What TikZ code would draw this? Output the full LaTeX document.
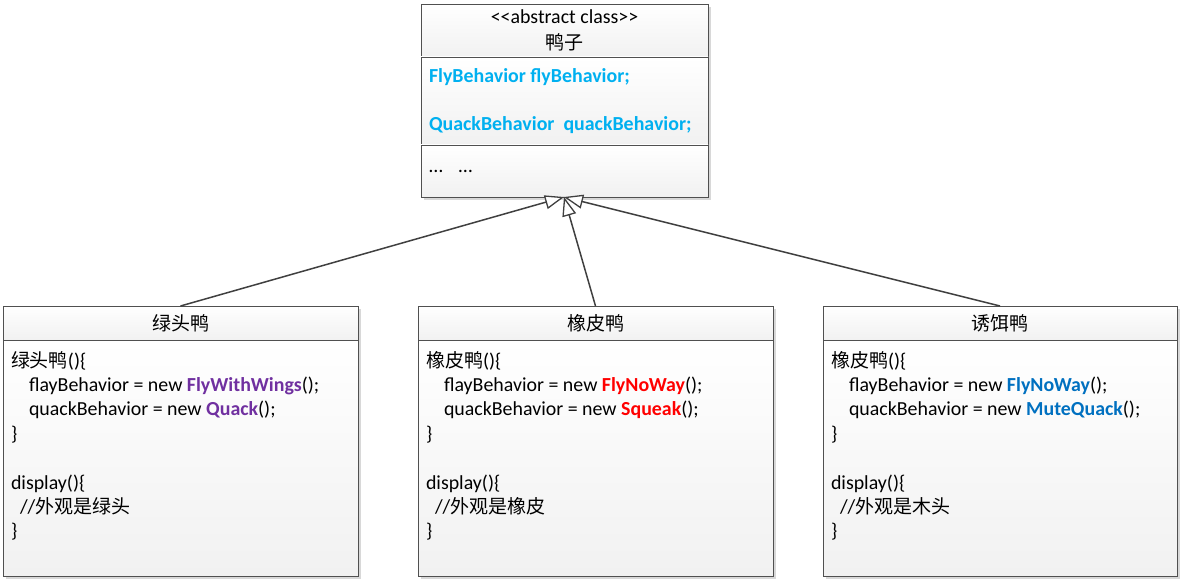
\documentclass[tikz,border=0pt]{standalone}
\usepackage{fontspec}
\setmainfont{Carlito}
\newfontfamily\cjk{Noto Sans CJK SC}
\usetikzlibrary{arrows.meta}
\definecolor{linegray}{HTML}{505050}
\definecolor{arrgray}{HTML}{404040}
\definecolor{shadowgray}{HTML}{D8D8D8}
\definecolor{attrblue}{HTML}{00B0F0}
\definecolor{purp}{HTML}{7030A0}
\definecolor{redc}{HTML}{FF0000}
\definecolor{bluec}{HTML}{0070C0}
\newcommand\codefont{\fontsize{19.9}{23}\selectfont}
\tikzset{
  sect/.style={draw=linegray, line width=0.9pt, top color=white, bottom color=gray!11,
    anchor=north west, inner sep=0pt, outer sep=0pt},
  codeline/.style={anchor=base west, inner sep=0pt, outer sep=0pt, font=\codefont},
  headtext/.style={anchor=center, inner sep=0pt, font=\fontsize{19}{22}\selectfont\cjk},
  inh/.style={draw=arrgray, line width=1.5pt, -{Triangle[open, length=19pt, width=14pt, fill=white, line width=1.3pt]}},
}
\begin{document}
\begin{tikzpicture}[x=1pt,y=-1pt]
\useasboundingbox (0,0) rectangle (1184,583);
% shadows
\fill[shadowgray] (424,7) rectangle (711,200);
\fill[shadowgray] (6,309) rectangle (361,579);
\fill[shadowgray] (421,309) rectangle (776,579);
\fill[shadowgray] (826,309) rectangle (1180,579);
% top class
\node[sect, minimum width=287pt, minimum height=53pt] (duckhead) at (421,4) {};
\node[sect, minimum width=287pt, minimum height=88pt] (duckattr) at (421,57) {};
\node[sect, minimum width=287pt, minimum height=52pt] (duckops) at (421,145) {};
\node[anchor=center, inner sep=0pt, font=\codefont] (stereo) at (564.5,17) {<{}<abstract class>{}>};
\node[headtext] (duckname) at (564.5,42) {鸭子};
\node[codeline, font=\codefont\bfseries, text=attrblue] (attr1) at (429,82.5) {FlyBehavior flyBehavior;};
\node[codeline, font=\codefont\bfseries, text=attrblue] (attr2) at (429,131) {QuackBehavior\ \ quackBehavior;};
\node[codeline] (ops) at (429,172) {…\hspace{16pt}…};
% bottom classes
\node[sect, minimum width=355pt, minimum height=34pt] (greenhead) at (3,306) {};
\node[sect, minimum width=355pt, minimum height=236pt] (greenbody) at (3,340) {};
\node[sect, minimum width=355pt, minimum height=34pt] (rubberhead) at (418,306) {};
\node[sect, minimum width=355pt, minimum height=236pt] (rubberbody) at (418,340) {};
\node[sect, minimum width=354pt, minimum height=34pt] (decoyhead) at (823,306) {};
\node[sect, minimum width=354pt, minimum height=236pt] (decoybody) at (823,340) {};
\node[headtext] (greenname) at (greenhead.center) {绿头鸭};
\node[headtext] (rubbername) at (rubberhead.center) {橡皮鸭};
\node[headtext] (decoyname) at (decoyhead.center) {诱饵鸭};
% green body
\node[codeline] (g1) at (11,367) {{\cjk\fontsize{19}{22}\selectfont 绿头鸭}()\{};
\node[codeline] (g2) at (29,391.5) {flayBehavior = new \textbf{\color{purp}FlyWithWings}();};
\node[codeline] (g3) at (29,415.5) {quackBehavior = new \textbf{\color{purp}Quack}();};
\node[codeline] (g4) at (11,440) {\}};
\node[codeline] (g5) at (11,489) {display()\{};
\node[codeline] (g6) at (20,513) {//{\cjk\fontsize{19}{22}\selectfont 外观是绿头}};
\node[codeline] (g7) at (11,537) {\}};
% rubber body
\node[codeline] (r1) at (426,367) {{\cjk\fontsize{19}{22}\selectfont 橡皮鸭}()\{};
\node[codeline] (r2) at (444,391.5) {flayBehavior = new \textbf{\color{redc}FlyNoWay}();};
\node[codeline] (r3) at (444,415.5) {quackBehavior = new \textbf{\color{redc}Squeak}();};
\node[codeline] (r4) at (426,440) {\}};
\node[codeline] (r5) at (426,489) {display()\{};
\node[codeline] (r6) at (435,513) {//{\cjk\fontsize{19}{22}\selectfont 外观是橡皮}};
\node[codeline] (r7) at (426,537) {\}};
% decoy body
\node[codeline] (d1) at (831,367) {{\cjk\fontsize{19}{22}\selectfont 橡皮鸭}()\{};
\node[codeline] (d2) at (849,391.5) {flayBehavior = new \textbf{\color{bluec}FlyNoWay}();};
\node[codeline] (d3) at (849,415.5) {quackBehavior = new \textbf{\color{bluec}MuteQuack}();};
\node[codeline] (d4) at (831,440) {\}};
\node[codeline] (d5) at (831,489) {display()\{};
\node[codeline] (d6) at (840,513) {//{\cjk\fontsize{19}{22}\selectfont 外观是木头}};
\node[codeline] (d7) at (831,537) {\}};
% inheritance
\coordinate (tip) at (564,197);
\draw[inh] (greenhead.north) -- (tip);
\draw[inh] (decoyhead.north) -- (tip);
\draw[inh] (rubberhead.north) -- (tip);
\end{tikzpicture}
\end{document}
